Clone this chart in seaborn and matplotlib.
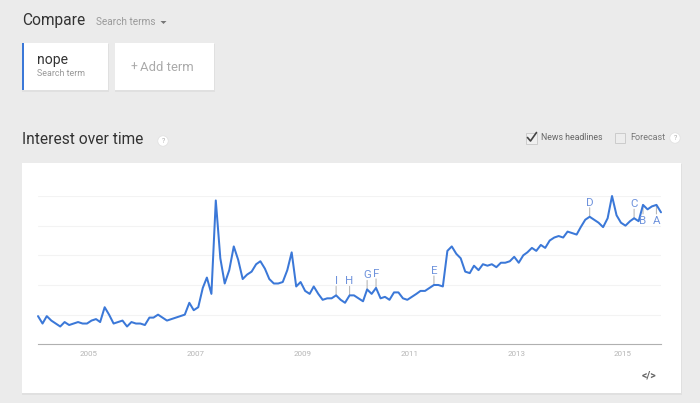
import matplotlib
matplotlib.use("Agg")
import matplotlib.pyplot as plt
from matplotlib.patches import Rectangle, Circle, Polygon
import pandas as pd
import seaborn as sns

interest = [19, 14, 19, 16, 14, 12, 15, 13, 14, 15, 14, 14, 16, 17, 15, 25, 20, 14, 15, 16,
            12, 15, 14, 14, 13, 18, 18, 20, 18, 16, 17, 18, 19, 20, 28, 23, 25, 38, 45, 34,
            97, 58, 41, 50, 66, 57, 44, 47, 49, 54, 56, 51, 44, 41, 41, 42, 50, 62, 39, 42,
            36, 34, 39, 34, 30, 31, 31, 33, 30, 28, 33, 33, 31, 29, 37, 34, 38, 31, 32, 30,
            35, 35, 31, 30, 32, 34, 36, 36, 38, 40, 40, 39, 63, 66, 61, 58, 49, 48, 53, 50,
            54, 53, 54, 52, 55, 55, 56, 59, 55, 60, 62, 65, 63, 67, 65, 70, 72, 73, 72, 76,
            75, 74, 79, 84, 86, 84, 82, 79, 85, 100, 87, 82, 80, 83, 85, 83, 94, 91, 93, 94, 89]
months = pd.date_range("2004-01-01", periods=len(interest), freq="MS")
year_labels = ["2005", "2007", "2009", "2011", "2013", "2015"]
year_ticks = pd.to_datetime(["2004-12-15", "2006-12-15", "2008-12-15", "2010-12-15", "2012-12-15", "2014-12-15"])
grid_values = [20, 40, 60, 80, 100]
news_letters = ["I", "H", "G", "F", "E", "D", "C", "B", "A"]
news_months = [67, 70, 74, 76, 89, 124, 134, 136, 139]
news_above = [True, True, True, True, True, True, True, False, False]

sns.set_theme(style="white")
plt.rcParams["font.family"] = ["Roboto", "DejaVu Sans"]
W, H = 700, 403
BG = "#ebebeb"
BLUE = "#3b78d8"
fig = plt.figure(figsize=(W / 100, H / 100), dpi=100, facecolor=BG)

# page furniture, in pixel coordinates
bg = fig.add_axes([0, 0, 1, 1], zorder=0)
bg.set_xlim(0, W)
bg.set_ylim(H, 0)
bg.axis("off")

def px(v):
    return v * 0.72

def card(x0, y0, x1, y1):
    bg.add_patch(Rectangle((x0, y0 + 1), x1 - x0 + 0.5, y1 - y0 + 0.5, fc="#e0e0e0", ec="none"))
    bg.add_patch(Rectangle((x0, y0), x1 - x0, y1 - y0, fc="white", ec="none"))

def help_icon(x, y):
    bg.add_patch(Circle((x, y), 5.2, fc="white", ec="#e0e0e0", lw=0.5))
    bg.text(x, y + 0.3, "?", fontsize=px(7), color="#aaaaaa", ha="center", va="center")

card(22, 43, 108, 90)
bg.add_patch(Rectangle((22, 43), 2.2, 47, fc=BLUE, ec="none"))
card(115, 43, 214, 90)
card(22, 163, 681, 393)

bg.text(22, 20.5, "Compare", fontsize=px(15.5), color="#333333", va="center")
bg.text(96, 22, "Search terms", fontsize=px(10), color="#9a9a9a", va="center")
bg.add_patch(Polygon([(160.5, 21), (166.5, 21), (163.5, 24)], fc="#777777", ec="none"))
bg.text(37, 60, "nope", fontsize=px(14), color="#333333", va="center")
bg.text(37, 73, "Search term", fontsize=px(8.9), color="#999999", va="center")
bg.text(131, 67.5, "+", fontsize=px(12), color="#aaaaaa", va="center")
bg.text(139.5, 67.5, "Add term", fontsize=px(13), color="#aaaaaa", va="center")
bg.text(22, 139.5, "Interest over time", fontsize=px(15.5), color="#333333", va="center")
help_icon(163, 141)

bg.add_patch(Rectangle((526, 133), 10.5, 10.5, fc="#f0f0f0", ec="#cccccc", lw=0.7))
bg.plot([527.5, 530.5, 536.5], [137.5, 141, 132.5], color="#444444", lw=1.2)
bg.text(541, 138, "News headlines", fontsize=px(8.8), color="#666666", va="center")
bg.add_patch(Rectangle((615, 133), 9.5, 10, fc="#ededed", ec="#cccccc", lw=0.7))
bg.text(630, 138, "Forecast", fontsize=px(9), color="#777777", va="center")
help_icon(675, 138)
bg.text(649.5, 375.5, "</>", fontsize=px(10.5), color="#666666", ha="center", va="center",
        fontweight="bold")

# chart: baseline at y=344.3 px, 100 at y=196 px, first month x=38, last x=661
ax = fig.add_axes([38 / W, 1 - 344.3 / H, (661 - 38) / W, (344.3 - 196) / H], zorder=1)
ax.patch.set_alpha(0)
frame = pd.DataFrame({"month": months, "interest": interest})
sns.lineplot(data=frame, x="month", y="interest", ax=ax, color=BLUE, linewidth=1.45,
             errorbar=None, clip_on=False, zorder=3)
ax.set_xlim(months[0], months[-1])
ax.set_ylim(0, 100)
ax.set_xlabel("")
ax.set_ylabel("")
ax.set_yticks(grid_values)
ax.set_yticklabels([])
ax.set_xticks(year_ticks)
ax.set_xticklabels(year_labels, fontsize=px(8), color="#b5b5b5")
ax.tick_params(axis="both", length=0)
ax.tick_params(axis="x", pad=4.8)
ax.grid(axis="y", color="#f3f3f3", lw=0.8)
ax.set_axisbelow(True)
for side in ("top", "left", "right"):
    ax.spines[side].set_visible(False)
ax.spines["bottom"].set_color("#b0b0b0")
ax.spines["bottom"].set_linewidth(0.8)

for letter, m, above in zip(news_letters, news_months, news_above):
    x, y = months[m], interest[m]
    sign = 1 if above else -1
    ax.annotate("", xy=(x, y), xytext=(0, px(sign * 9)), textcoords="offset points",
                arrowprops=dict(arrowstyle="-", color="#b8b8b8", lw=0.8, shrinkA=0, shrinkB=0),
                annotation_clip=False, zorder=2)
    ax.annotate(letter, xy=(x, y), xytext=(0, px(sign * 11)), textcoords="offset points",
                ha="center", va="baseline" if above else "top", fontsize=px(11.5),
                color="#6f93dc", annotation_clip=False, zorder=4)

fig.savefig("out.png", dpi=100, facecolor=BG)
